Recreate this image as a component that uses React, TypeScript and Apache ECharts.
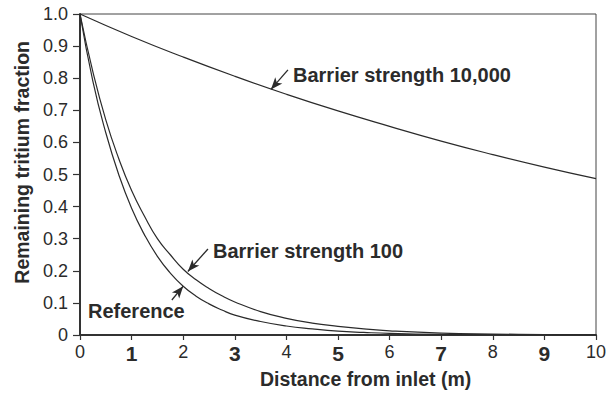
import React, { useEffect, useRef } from "react";
import * as echarts from "echarts";

const xFine = [0, 0.25, 0.5, 0.75, 1, 1.25, 1.5, 1.75, 2, 2.25, 2.5, 2.75, 3, 3.5, 4, 4.5, 5, 5.5, 6, 7, 8, 9, 10];
const referenceValues = [1, 0.79, 0.63, 0.5, 0.395, 0.312, 0.245, 0.193, 0.152, 0.121, 0.097, 0.078, 0.062, 0.042, 0.028, 0.019, 0.012, 0.008, 0.005, 0.002, 0.001, 0.0005, 0.0003];
const barrier100Values = [1, 0.82, 0.67, 0.55, 0.45, 0.37, 0.3, 0.25, 0.205, 0.172, 0.145, 0.122, 0.103, 0.073, 0.052, 0.037, 0.027, 0.019, 0.013, 0.006, 0.003, 0.0015, 0.0008];
const xCoarse = [0, 1, 2, 3, 4, 5, 6, 7, 8, 9, 10];
const barrier10000Values = [1, 0.93, 0.866, 0.806, 0.75, 0.698, 0.65, 0.604, 0.562, 0.523, 0.487];

const yTickLabels = ["0", "0.1", "0.2", "0.3", "0.4", "0.5", "0.6", "0.7", "0.8", "0.9", "1.0"];
const xTickLabels = ["0", "1", "2", "3", "4", "5", "6", "7", "8", "9", "10"];
const boldXTicks = ["1", "3", "5", "7", "9"];

const INK = "#2b2b2b";
const FONT = '"Liberation Sans", Arial, Helvetica, sans-serif';

function arrowLine(from: number[], to: number[]) {
  return [
    { coord: from, symbol: "none" },
    { coord: to, symbol: "arrow" },
  ];
}

export default function App() {
  const ref = useRef<HTMLDivElement>(null);
  useEffect(() => {
    if (!ref.current) return;
    const chart = echarts.init(ref.current, null, { renderer: "svg" });
    const lineStyle = { color: INK, width: 1.2 };
    const markLineBase = {
      silent: true,
      symbolSize: [7, 12],
      label: { show: false },
      lineStyle: { color: INK, width: 1.3, type: "solid" },
    };
    chart.setOption({
      animation: false,
      backgroundColor: "#ffffff",
      textStyle: { fontFamily: FONT },
      grid: {
        left: 80,
        right: 19,
        top: 14,
        bottom: 58,
        containLabel: false,
        outerBoundsMode: "none",
        show: true,
        borderColor: "#444",
        borderWidth: 1,
      },
      xAxis: {
        type: "value",
        min: 0,
        max: 10,
        interval: 1,
        splitLine: { show: false },
        axisLine: { lineStyle: { color: "#333", width: 2 } },
        axisTick: { show: true, length: 5, lineStyle: { color: "#333", width: 1.2 } },
        axisLabel: {
          margin: 8,
          color: INK,
          fontFamily: FONT,
          formatter: (v: number) => {
            const s = xTickLabels[Math.round(v)] ?? String(v);
            return boldXTicks.includes(s) ? `{b|${s}}` : `{n|${s}}`;
          },
          rich: {
            b: { fontWeight: "bold", fontSize: 21, color: INK, fontFamily: FONT },
            n: { fontSize: 18, color: INK, fontFamily: FONT },
          },
        },
      },
      yAxis: {
        type: "value",
        min: 0,
        max: 1,
        interval: 0.1,
        splitLine: { show: false },
        axisLine: { lineStyle: { color: "#333", width: 2 } },
        axisTick: { show: true, length: 7, lineStyle: { color: "#333", width: 1.2 } },
        axisLabel: {
          margin: 12,
          color: INK,
          fontSize: 18,
          fontFamily: FONT,
          formatter: (v: number) => yTickLabels[Math.round(v * 10)] ?? String(v),
        },
      },
      series: [
        {
          name: "Reference",
          type: "line",
          data: xFine.map((x, i) => [x, referenceValues[i]]),
          smooth: true,
          showSymbol: false,
          lineStyle,
          markLine: { ...markLineBase, data: [arrowLine([1.78, 0.109], [2.0, 0.152])] },
        },
        {
          name: "Barrier strength 100",
          type: "line",
          data: xFine.map((x, i) => [x, barrier100Values[i]]),
          smooth: true,
          showSymbol: false,
          lineStyle,
          markLine: { ...markLineBase, data: [arrowLine([2.48, 0.268], [2.09, 0.198])] },
        },
        {
          name: "Barrier strength 10,000",
          type: "line",
          data: xCoarse.map((x, i) => [x, barrier10000Values[i]]),
          smooth: true,
          showSymbol: false,
          lineStyle,
          markLine: { ...markLineBase, data: [arrowLine([4.03, 0.826], [3.7, 0.765])] },
        },
      ],
      graphic: [
        {
          type: "text",
          left: 293,
          top: 65,
          style: { text: "Barrier strength 10,000", font: `bold 20px ${FONT}`, fill: INK },
        },
        {
          type: "text",
          left: 213,
          top: 241,
          style: { text: "Barrier strength 100", font: `bold 20px ${FONT}`, fill: INK },
        },
        {
          type: "text",
          left: 88,
          top: 301,
          style: { text: "Reference", font: `bold 20px ${FONT}`, fill: INK },
        },
        {
          type: "text",
          left: 260,
          top: 369,
          style: { text: "Distance from inlet (m)", font: `bold 19.5px ${FONT}`, fill: INK },
        },
        {
          type: "text",
          left: 12,
          top: 41,
          rotation: Math.PI / 2,
          style: { text: "Remaining tritium fraction", font: `bold 19.5px ${FONT}`, fill: INK },
        },
      ],
    });
    return () => chart.dispose();
  }, []);
  return (
    <div
      ref={ref}
      style={{ position: "fixed", left: 0, top: 0, width: 615, height: 393, background: "#fff" }}
    />
  );
}
